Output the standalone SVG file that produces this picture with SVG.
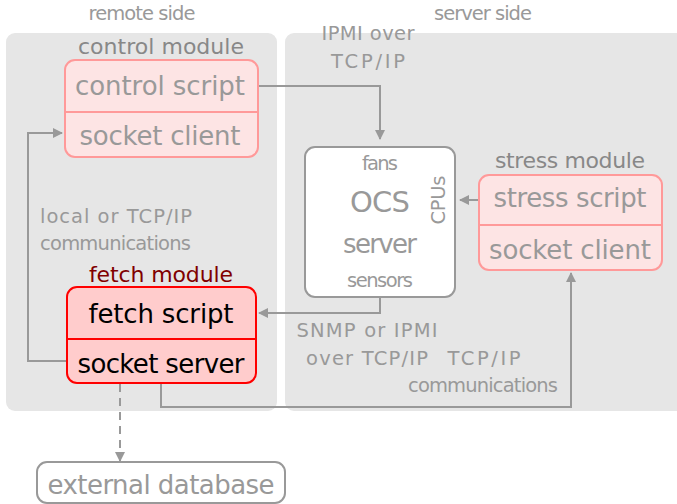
<svg xmlns="http://www.w3.org/2000/svg" width="677" height="504" viewBox="0 0 677 504">
  <style>
    text { font-family: "DejaVu Sans", "Liberation Sans", sans-serif; text-anchor: middle; fill: #999; }
    .panel { fill: #e6e6e6; }
    .soft { fill: #fde4e4; stroke: #ff9999; stroke-width: 2; }
    .hot { fill: #ffcccc; stroke: #ff0000; stroke-width: 2; }
    .plain { fill: #fff; stroke: #999; stroke-width: 2; }
    .link { fill: none; stroke: #999; stroke-width: 2; }
    .dash { stroke-dasharray: 8 6; }
    .sm { font-size: 19.5px; }
    .md { font-size: 22px; }
    .lg { font-size: 26px; }
    .title { fill: #888; }
    .start { text-anchor: start; }
  </style>
  <defs>
    <marker id="arrow" viewBox="0 0 10 10" refX="9" refY="5" markerWidth="5" markerHeight="5" orient="auto" markerUnits="strokeWidth">
      <path d="M0,0 L10,5 L0,10 Z" fill="#999"/>
    </marker>
  </defs>

  <!-- side panels -->
  <g id="remote-side">
    <rect class="panel" x="6" y="33" width="271" height="378" rx="9"/>
    <text class="sm" x="142" y="20" textLength="107">remote side</text>
  </g>
  <g id="server-side">
    <rect class="panel" x="285" y="33" width="400" height="378" rx="9"/>
    <text class="sm" x="483" y="20" textLength="98">server side</text>
  </g>

  <!-- connectors -->
  <g id="connectors">
    <path class="link" d="M258,86 H380 V139" marker-end="url(#arrow)"/>
    <path class="link" d="M479,200 H460" marker-end="url(#arrow)"/>
    <path class="link" d="M380,297 V313 H259" marker-end="url(#arrow)"/>
    <path class="link" d="M67,361 H28 V133 H62" marker-end="url(#arrow)"/>
    <path class="link" d="M161,383 V407 H571 V273" marker-end="url(#arrow)"/>
    <path class="link dash" d="M120,384 V461" marker-end="url(#arrow)"/>
    <text class="sm" x="368" y="40" textLength="93">IPMI over</text>
    <text class="sm" x="368" y="68" textLength="74">TCP/IP</text>
    <text class="sm start" x="40" y="223" textLength="152">local or TCP/IP</text>
    <text class="sm start" x="40" y="250" textLength="151">communications</text>
    <text class="sm" x="367" y="337" textLength="141">SNMP or IPMI</text>
    <text class="sm" x="367" y="365" textLength="122">over TCP/IP</text>
    <text class="sm" x="484" y="365" textLength="73">TCP/IP</text>
    <text class="sm" x="483" y="392" textLength="150">communications</text>
  </g>

  <g id="control-module">
    <text class="md title" x="161" y="54" textLength="166">control module</text>
    <rect class="soft" x="65" y="60" width="193" height="97" rx="10"/>
    <line x1="65" y1="112" x2="258" y2="112" stroke="#ff9999" stroke-width="2"/>
    <text class="lg" x="160" y="95" textLength="170">control script</text>
    <text class="lg" x="160" y="145" textLength="161">socket client</text>
  </g>

  <g id="ocs-server">
    <rect class="plain" x="305" y="147" width="150" height="150" rx="10"/>
    <text class="sm" x="380" y="170" textLength="36">fans</text>
    <text x="380" y="212" style="font-size:29px" textLength="60">OCS</text>
    <text class="lg" x="380" y="253" textLength="74">server</text>
    <text class="sm" x="380" y="287" textLength="66">sensors</text>
    <text class="sm" transform="translate(445,200) rotate(-90)" textLength="49">CPUs</text>
  </g>

  <g id="stress-module">
    <text class="md title" x="570" y="168" textLength="150">stress module</text>
    <rect class="soft" x="479" y="175" width="183" height="95" rx="10"/>
    <line x1="479" y1="225" x2="662" y2="225" stroke="#ff9999" stroke-width="2"/>
    <text class="lg" x="570" y="207" textLength="153">stress script</text>
    <text class="lg" x="570" y="259" textLength="162">socket client</text>
  </g>

  <g id="fetch-module">
    <text class="md" x="161" y="282" style="fill:#800000" textLength="144">fetch module</text>
    <rect class="hot" x="67" y="287" width="189" height="96" rx="10"/>
    <line x1="67" y1="339" x2="256" y2="339" stroke="#ff0000" stroke-width="2"/>
    <text class="lg" x="161" y="323" style="fill:#000" textLength="145">fetch script</text>
    <text class="lg" x="161" y="373" style="fill:#000" textLength="167">socket server</text>
  </g>

  <g id="external-database">
    <rect class="plain" x="37" y="462" width="248" height="41" rx="10"/>
    <text class="lg" x="161" y="494" textLength="227">external database</text>
  </g>
</svg>
